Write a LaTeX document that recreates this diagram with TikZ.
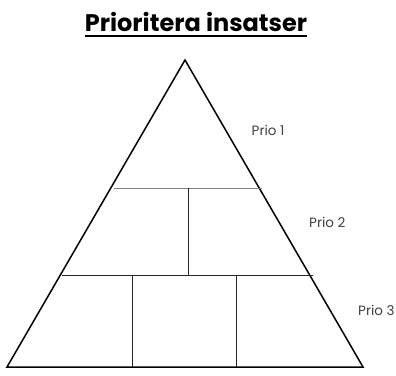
\documentclass[tikz,border=0pt]{standalone}
\usepackage{fontspec}
\setmainfont{Poppins}
\begin{document}
\begin{tikzpicture}[x=1pt,y=-1pt,
  side/.style={line width=1.5pt, black, line join=miter},
  divider/.style={line width=0.9pt, black!85},
  tierlabel/.style={font=\fontsize{13.5}{14}\selectfont, text=black!75, inner sep=0pt, anchor=west},
  heading/.style={font=\fontsize{24}{28}\selectfont\bfseries, inner sep=0pt, anchor=base}]
\useasboundingbox (0,0) rectangle (396,375);

% outline of the pyramid
\coordinate (apex) at (185,60);
\coordinate (bl) at (7,367);
\coordinate (br) at (363,367);
\draw[side] (bl) -- (apex) -- (br) -- cycle;

% tier boundaries
\coordinate (t1l) at (114,188);
\coordinate (t1r) at (262,188);
\coordinate (t2l) at (62,275);
\coordinate (t2r) at (313,275);
\draw[divider, black!50] (t1l) -- (t1r);
\draw[divider] (t2l) -- (t2r);

% cells inside the tiers
\coordinate (m1) at (188.3,188);
\coordinate (m1b) at (188.3,275);
\coordinate (a1) at (132.7,275);
\coordinate (a1b) at (132.7,367);
\coordinate (a2) at (236.7,275);
\coordinate (a2b) at (236.7,367);
\draw[divider] (m1) -- (m1b);
\draw[divider] (a1) -- (a1b);
\draw[divider] (a2) -- (a2b);

% tier labels
\node[tierlabel] (p1) at (251.5,130.5) {Prio 1};
\node[tierlabel] (p2) at (309,222.5) {Prio 2};
\node[tierlabel] (p3) at (358,310.5) {Prio 3};

% heading with underline
\node[heading] (title) at (196,31.7) {Prioritera insatser};
\draw[line width=2pt] (title.west |- 0,36) -- (title.east |- 0,36);
\end{tikzpicture}
\end{document}
